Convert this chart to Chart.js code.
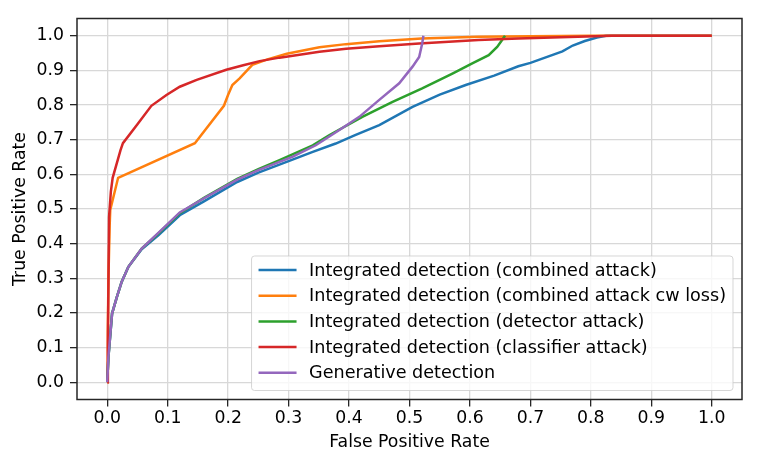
<!DOCTYPE html>
<html>
<head>
<meta charset="utf-8">
<script src="https://cdn.jsdelivr.net/npm/chart.js@4.4.0/dist/chart.umd.min.js"></script>
<style>
  html, body { margin: 0; padding: 0; background: #fff; }
  #wrap { width: 762px; height: 466px; }
</style>
</head>
<body>
<div id="wrap"><canvas id="roc" width="762" height="466"></canvas></div>
<script>
// tick positions
const xTicks = [0, 0.1, 0.2, 0.3, 0.4, 0.5, 0.6, 0.7, 0.8, 0.9, 1.0];
const yTicks = [0, 0.1, 0.2, 0.3, 0.4, 0.5, 0.6, 0.7, 0.8, 0.9, 1.0];

const seriesNames = [
  'Integrated detection (combined attack)',
  'Integrated detection (combined attack cw loss)',
  'Integrated detection (detector attack)',
  'Integrated detection (classifier attack)',
  'Generative detection'
];
const seriesColors = ['#1f77b4', '#ff7f0e', '#2ca02c', '#d62728', '#9467bd'];

// combined attack
const combinedFpr = [0, 0.002, 0.008, 0.016, 0.024, 0.035, 0.057, 0.085, 0.12, 0.16, 0.215, 0.25, 0.3, 0.34, 0.378, 0.41, 0.45, 0.505, 0.55, 0.593, 0.64, 0.68, 0.7, 0.753, 0.77, 0.79, 0.81, 0.825, 0.85, 0.9, 1.0];
const combinedTpr = [0, 0.073, 0.198, 0.246, 0.29, 0.333, 0.384, 0.425, 0.482, 0.522, 0.578, 0.605, 0.638, 0.665, 0.689, 0.713, 0.742, 0.795, 0.83, 0.858, 0.885, 0.912, 0.922, 0.955, 0.972, 0.985, 0.995, 1.0, 1.0, 1.0, 1.0];

// combined attack, cw loss
const cwFpr = [0, 0.001, 0.002, 0.004, 0.005, 0.018, 0.145, 0.193, 0.2, 0.207, 0.219, 0.24, 0.265, 0.297, 0.351, 0.395, 0.45, 0.52, 0.614, 0.7, 0.8, 1.0];
const cwTpr = [0, 0.15, 0.3, 0.45, 0.497, 0.59, 0.69, 0.798, 0.83, 0.858, 0.877, 0.916, 0.932, 0.948, 0.967, 0.976, 0.984, 0.992, 0.997, 0.999, 1.0, 1.0];

// detector attack
const detectorFpr = [0, 0.002, 0.008, 0.016, 0.024, 0.035, 0.057, 0.085, 0.12, 0.16, 0.215, 0.25, 0.285, 0.34, 0.367, 0.422, 0.472, 0.521, 0.571, 0.603, 0.631, 0.645, 0.652, 0.658];
const detectorTpr = [0, 0.073, 0.198, 0.246, 0.29, 0.333, 0.386, 0.43, 0.488, 0.532, 0.587, 0.615, 0.641, 0.684, 0.713, 0.766, 0.809, 0.848, 0.891, 0.92, 0.944, 0.968, 0.985, 1.0];

// classifier attack
const classifierFpr = [0, 0.001, 0.002, 0.003, 0.006, 0.009, 0.022, 0.026, 0.05, 0.073, 0.098, 0.12, 0.148, 0.197, 0.225, 0.252, 0.285, 0.351, 0.395, 0.45, 0.516, 0.614, 0.68, 0.75, 0.835, 1.0];
const classifierTpr = [0, 0.1, 0.285, 0.477, 0.55, 0.59, 0.67, 0.69, 0.745, 0.798, 0.829, 0.853, 0.873, 0.902, 0.915, 0.927, 0.937, 0.954, 0.963, 0.97, 0.978, 0.988, 0.992, 0.996, 1.0, 1.0];

// generative detection
const generativeFpr = [0, 0.002, 0.008, 0.016, 0.024, 0.035, 0.057, 0.085, 0.12, 0.16, 0.215, 0.25, 0.307, 0.345, 0.384, 0.417, 0.45, 0.483, 0.505, 0.516, 0.521, 0.523];
const generativeTpr = [0, 0.073, 0.198, 0.246, 0.29, 0.333, 0.386, 0.432, 0.49, 0.531, 0.585, 0.612, 0.651, 0.684, 0.728, 0.766, 0.815, 0.863, 0.911, 0.939, 0.978, 1.0];

const curves = [
  [combinedFpr, combinedTpr],
  [cwFpr, cwTpr],
  [detectorFpr, detectorTpr],
  [classifierFpr, classifierTpr],
  [generativeFpr, generativeTpr]
];

const FONT = "'DejaVu Sans', sans-serif";
const FSIZE = 17.3;

// axes frame + matplotlib-style legend in the lower right of the plot
const frameAndLegend = {
  id: 'frameAndLegend',
  afterDatasetsDraw(chart) {
    const ctx = chart.ctx;
    const a = chart.chartArea;
    ctx.save();
    ctx.strokeStyle = '#262626';
    ctx.lineWidth = 1.5;
    ctx.strokeRect(a.left, a.top, a.right - a.left, a.bottom - a.top);

    ctx.font = '17.6px ' + FONT;
    let maxW = 0;
    seriesNames.forEach(n => { maxW = Math.max(maxW, ctx.measureText(n).width); });
    const rowH = 25.7;
    const boxW = 7 + 38 + 12.5 + maxW + 7;
    const boxH = rowH * seriesNames.length + 6;
    const bx = a.right - 9 - boxW;
    const by = a.bottom - 9 - boxH;

    ctx.beginPath();
    ctx.roundRect(bx, by, boxW, boxH, 3);
    ctx.fillStyle = 'rgba(255,255,255,0.8)';
    ctx.fill();
    ctx.strokeStyle = 'rgba(204,204,204,0.8)';
    ctx.lineWidth = 1;
    ctx.stroke();

    ctx.textBaseline = 'middle';
    ctx.textAlign = 'left';
    seriesNames.forEach((n, i) => {
      const cy = by + 14 + i * rowH;
      ctx.strokeStyle = seriesColors[i];
      ctx.lineWidth = 2.5;
      ctx.beginPath();
      ctx.moveTo(bx + 7, cy);
      ctx.lineTo(bx + 45, cy);
      ctx.stroke();
      ctx.fillStyle = '#000';
      ctx.fillText(n, bx + 57.5, cy + 1);
    });
    ctx.restore();
  }
};

const gridOpts = {
  color: '#d8d8d8',
  lineWidth: 1.3,
  tickColor: '#262626',
  tickWidth: 1.3,
  tickLength: 7,
  drawTicks: true
};

new Chart(document.getElementById('roc').getContext('2d'), {
  type: 'line',
  data: {
    datasets: curves.map((c, i) => ({
      label: seriesNames[i],
      data: c[0].map((x, j) => ({ x: x, y: c[1][j] })),
      borderColor: seriesColors[i],
      backgroundColor: seriesColors[i],
      borderWidth: 2.5,
      pointRadius: 0,
      tension: 0,
      fill: false,
      order: curves.length - i
    }))
  },
  options: {
    responsive: false,
    animation: false,
    events: [],
    layout: { padding: { left: 0, top: 18.5, right: 20, bottom: 0 } },
    plugins: { legend: { display: false }, tooltip: { enabled: false } },
    scales: {
      x: {
        type: 'linear',
        min: -0.05,
        max: 1.05,
        afterBuildTicks: s => { s.ticks = xTicks.map(v => ({ value: v })); },
        afterFit: s => { s.height = 66.5; },
        grid: gridOpts,
        border: { display: false },
        ticks: {
          autoSkip: false,
          maxRotation: 0,
          padding: 2,
          color: '#000',
          font: { family: FONT, size: FSIZE },
          callback: v => v.toFixed(1)
        },
        title: {
          display: true,
          text: 'False Positive Rate',
          color: '#000',
          font: { family: FONT, size: FSIZE },
          padding: { top: 0, bottom: 13 }
        }
      },
      y: {
        type: 'linear',
        min: -0.05,
        max: 1.05,
        afterBuildTicks: s => { s.ticks = yTicks.map(v => ({ value: v })); },
        afterFit: s => { s.width = 77; },
        grid: gridOpts,
        border: { display: false },
        ticks: {
          autoSkip: false,
          padding: 6,
          color: '#000',
          font: { family: FONT, size: FSIZE },
          callback: v => v.toFixed(1)
        },
        title: {
          display: true,
          text: 'True Positive Rate',
          color: '#000',
          font: { family: FONT, size: FSIZE },
          padding: { top: 10, bottom: 0 }
        }
      }
    }
  },
  plugins: [frameAndLegend]
});
</script>
</body>
</html>
